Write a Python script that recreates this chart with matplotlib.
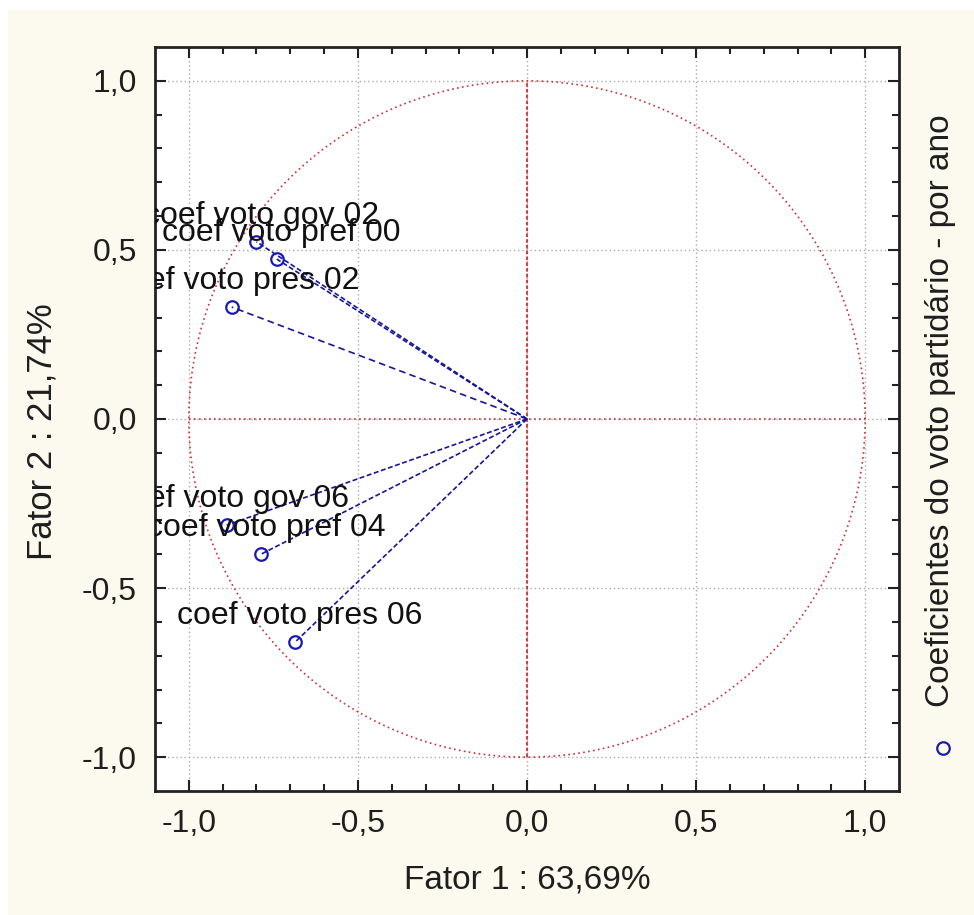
import numpy as np
import matplotlib
matplotlib.use("Agg")
import matplotlib.pyplot as plt
from matplotlib.lines import Line2D
from matplotlib.patches import Rectangle
import matplotlib.transforms as mtransforms

plt.rcParams['font.family'] = ['Liberation Sans', 'DejaVu Sans']

labels = ["coef voto gov 02", "coef voto pref 00", "coef voto pres 02",
          "coef voto gov 06", "coef voto pref 04", "coef voto pres 06"]
factor1 = [-0.80, -0.74, -0.873, -0.888, -0.787, -0.686]
factor2 = [0.524, 0.473, 0.331, -0.314, -0.400, -0.660]
ticks = [-1.0, -0.5, 0.0, 0.5, 1.0]
tick_labels = ["-1,0", "-0,5", "0,0", "0,5", "1,0"]
xlabel = "Fator 1 : 63,69%"
ylabel = "Fator 2 : 21,74%"
legend_label = "Coeficientes do voto partidário - por ano"

W, H = 974, 915
fig = plt.figure(figsize=(W / 100, H / 100), dpi=100, facecolor="white")
fig.add_artist(Rectangle((8 / W, 0), 1 - 8 / W, 1 - 10 / H, transform=fig.transFigure,
                         facecolor="#FCFAEE", edgecolor="none", zorder=-10))

ax = fig.add_axes([155 / W, 1 - 791 / H, 744 / W, 744 / H])
ax.set_facecolor("white")
ax.set_xlim(-1.1, 1.1)
ax.set_ylim(-1.1, 1.1)

blue = "#1A1AB0"
red = "#D03030"
txt = "#1E1E1E"

# unit circle and axes lines
theta = np.linspace(0, 2 * np.pi, 400)
ax.plot(np.cos(theta), np.sin(theta), color=red, lw=1.2, ls=(0, (1, 2)), zorder=2)
ax.plot([-1, 1], [0, 0], color=red, lw=1.2, ls=(0, (1, 2)), zorder=2)
ax.plot([0, 0], [-1, 1], color=red, lw=1.3, ls=(0, (2, 1.2)), zorder=2)

# vectors
for i, (x, y) in enumerate(zip(factor1, factor2)):
    ls = (0, (4, 2.5)) if i == 2 else (0, (3, 1.5))
    ax.plot([0, x], [0, y], color="#16169A", lw=1.2, ls=ls, zorder=3)
ax.plot(factor1, factor2, ls="none", marker="o", ms=9, mfc="none", mec=blue, mew=1.6, zorder=4)

offset = mtransforms.ScaledTranslation(5 / 100, 26 / 100, fig.dpi_scale_trans)
for lab, x, y in zip(labels, factor1, factor2):
    ax.text(x, y, lab, transform=ax.transData + offset, ha="center", va="center",
            fontsize=23, color="#111111", clip_on=True, zorder=5)

ax.set_xticks(ticks)
ax.set_xticklabels(tick_labels)
ax.set_yticks(ticks)
ax.set_yticklabels(tick_labels)
ax.set_xticks(np.arange(-1.0, 1.05, 0.1), minor=True)
ax.set_yticks(np.arange(-1.0, 1.05, 0.1), minor=True)
ax.tick_params(which="both", direction="in", top=True, right=True, width=1.5, color="#222222")
ax.tick_params(which="major", length=8, labelsize=23, pad=13, labelcolor=txt)
ax.tick_params(which="minor", length=5)
ax.grid(True, which="major", color="#AAAAAA", ls=(0, (1, 2)), lw=1)
for s in ax.spines.values():
    s.set_linewidth(2)
    s.set_color("#222222")

fig.text(527 / W, 1 - 880 / H, xlabel, ha="center", va="center", fontsize=24, color=txt)
fig.text(42 / W, 1 - 432 / H, ylabel, ha="center", va="center", rotation=90, fontsize=25, color=txt)

fig.text(941 / W, 1 - 411 / H, legend_label, ha="center", va="center", rotation=90,
         fontsize=24, color=txt)
fig.add_artist(Line2D([943 / W], [1 - 748 / H], transform=fig.transFigure, ls="none",
                      marker="o", ms=9, mfc="none", mec=blue, mew=1.6))

fig.savefig("out.png", dpi=100, facecolor=fig.get_facecolor())
